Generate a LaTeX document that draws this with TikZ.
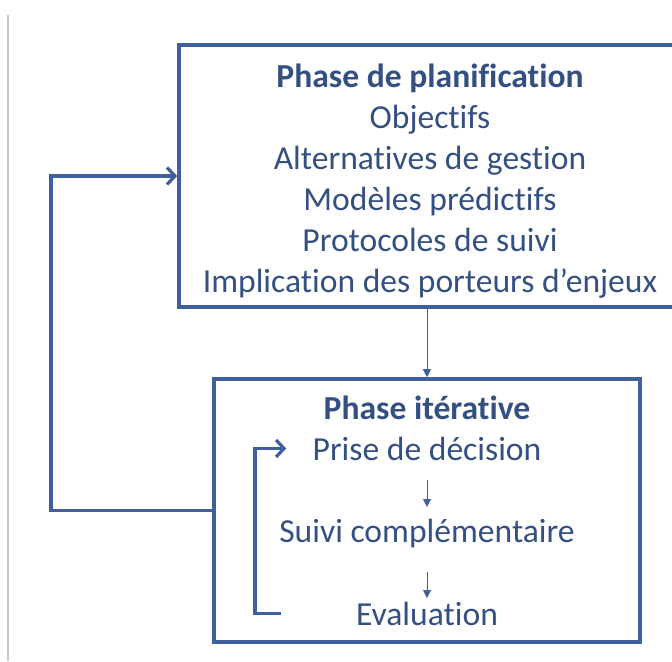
\documentclass[tikz,border=0pt]{standalone}
\usepackage{fontspec}
\setmainfont{Carlito}[RawFeature={-liga}]
\usetikzlibrary{arrows.meta}
\definecolor{boxblue}{RGB}{62,96,156}
\definecolor{txtblue}{RGB}{52,80,130}

\begin{document}
\begin{tikzpicture}[x=0.5pt, y=-0.5pt,
    phasebox/.style={draw=boxblue, line width=1.8pt, inner sep=0pt},
    txt/.style={text=txtblue, font=\fontsize{16.8}{20.5}\selectfont, anchor=base, inner sep=0pt},
    loopline/.style={draw=boxblue, line width=1.6pt, -{Straight Barb[length=4pt, width=8.5pt]}},
    smallarrow/.style={draw=boxblue, line width=0.5pt, -{Triangle[length=4pt, width=4pt]}}]
    \useasboundingbox (0, 0) rectangle (672, 661);
    \draw[black!22, line width=1pt] (8, 15) -- (8, 661);
    \node[phasebox, minimum width=251pt, minimum height=131pt] (plan) at (430, 176) {};
    \node[txt] (plantitle) at (430, 87) {\bfseries Phase de planification};
    \foreach \t [count=\i] in {Objectifs, Alternatives de gestion, Modèles prédictifs,
        Protocoles de suivi, Implication des porteurs d’enjeux}
        \node[txt] (plan\i) at (430, 87+41*\i) {\t};
    \node[phasebox, minimum width=213pt, minimum height=131.5pt] (iter) at (427, 510.5) {};
    \node[txt] (itertitle) at (427, 419) {\bfseries Phase itérative};
    \node[txt] (prise) at (427, 460) {Prise de décision};
    \node[txt] (suivi) at (427, 542) {Suivi complémentaire};
    \node[txt] (eval) at (427, 625) {Evaluation};
    \coordinate (innerx) at (255, 0);
    \coordinate (outerx) at (51, 0);
    \draw[smallarrow] (plan.south -| iter.north) -- (iter.north);
    \draw[smallarrow, shorten <=10pt, shorten >=17.5pt] (prise.base) -- (suivi.base);
    \draw[smallarrow, shorten <=15pt, shorten >=13.5pt] (suivi.base) -- (eval.base);
    \draw[loopline, shorten <=37.5pt, shorten >=13pt] (eval.west) -- (eval.west -| innerx) |- (prise.west);
    \draw[loopline] (iter.west) -- (iter.west -| outerx) |- (plan.west);
\end{tikzpicture}
\end{document}
